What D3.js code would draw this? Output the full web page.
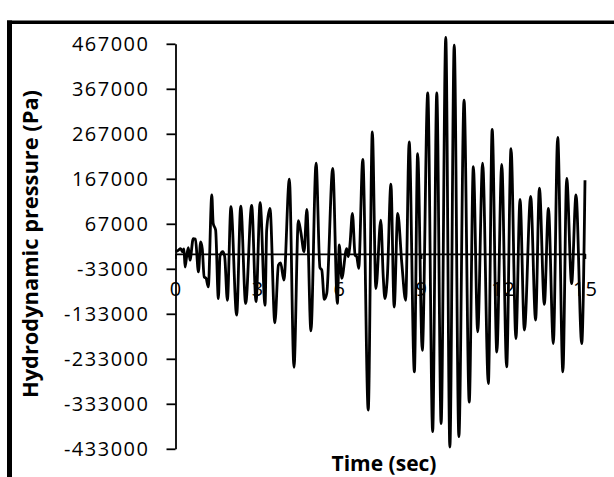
<!DOCTYPE html>
<html>
<head>
<meta charset="utf-8">
<script src="https://cdn.jsdelivr.net/npm/d3@7"></script>
<style>
  html, body { margin: 0; padding: 0; background: #fff; }
  svg { display: block; }
  .tick text { font-family: "Open Sans", sans-serif; font-size: 20px; fill: #000; }
  .title { font-family: "Open Sans", sans-serif; font-weight: bold; font-size: 21px; fill: #000; }
</style>
</head>
<body>
<svg id="chart" width="614" height="477"></svg>
<script>
// Time history of hydrodynamic pressure
const timeSec = [
  0, 0.10, 0.19, 0.25, 0.31, 0.35, 0.41, 0.47, 0.53, 0.65,
  0.73, 0.84, 0.92, 0.98, 1.05, 1.12, 1.20, 1.33, 1.38, 1.47,
  1.57, 1.63, 1.73, 1.80, 1.90, 2.03, 2.24, 2.39, 2.57, 2.79,
  2.95, 3.10, 3.28, 3.34, 3.46, 3.64, 3.77, 3.85, 3.97, 4.17,
  4.34, 4.50, 4.59, 4.71, 4.81, 4.96, 5.15, 5.29, 5.36, 5.45,
  5.54, 5.76, 5.93, 6.00, 6.09, 6.27, 6.33, 6.39, 6.48, 6.58,
  6.64, 6.71, 6.86, 7.06, 7.21, 7.34, 7.52, 7.61, 7.67, 7.76,
  7.89, 8.01, 8.14, 8.29, 8.43, 8.56, 8.75, 8.87, 9.04, 9.24,
  9.42, 9.57, 9.73, 9.90, 10.05, 10.21, 10.38, 10.57, 10.76, 10.91,
  11.07, 11.25, 11.46, 11.60, 11.77, 11.95, 12.13, 12.29, 12.47, 12.62,
  12.78, 13.01, 13.19, 13.33, 13.51, 13.66, 13.84, 14.00, 14.19, 14.33,
  14.51, 14.67, 14.88, 15.0
];
const pressurePa = [
  5000, 8000, 12000, 5000, 11000, -29000, -5000, 14000, -14000, 34000,
  33000, -40000, 27000, 12000, -51000, -54000, -73000, 131000, 68000, 53000,
  -99000, -5000, 5000, -5000, -103000, 105000, -136000, 106000, -110000, 108000,
  -106000, 114000, -114000, 53000, 101000, -153000, -25000, -20000, -58000, 166000,
  -252000, 74000, 49000, 5000, 99000, -171000, 202000, -30000, -36000, -101000,
  -88000, 190000, -110000, 20000, -54000, 12000, -6000, 20000, 90000, -3000,
  -6000, -32000, 210000, -347000, 271000, -77000, 75000, -51000, -99000, -51000,
  155000, -118000, 90000, -21000, -103000, 249000, -262000, 223000, -214000, 358000,
  -395000, 358000, -377000, 481000, -429000, 464000, -406000, 342000, -329000, 194000,
  -173000, 202000, -288000, 277000, -218000, 199000, -251000, 234000, -188000, 121000,
  -169000, 128000, -147000, 146000, -112000, 101000, -199000, 259000, -262000, 168000,
  -66000, 131000, -199000, 164000
];
const yTickValues = [-433000, -333000, -233000, -133000, -33000, 67000, 167000, 267000, 367000, 467000];
const xTickValues = [0, 3, 6, 9, 12, 15];
const xTitle = "Time (sec)";
const yTitle = "Hydrodynamic pressure (Pa)";

const svg = d3.select("#chart");

// outer frame (left and top edges)
svg.append("rect").attr("x", 7).attr("y", 20.5).attr("width", 5).attr("height", 460).attr("fill", "#000");
svg.append("rect").attr("x", 7).attr("y", 20.5).attr("width", 610).attr("height", 3.5).attr("fill", "#000");

const x = d3.scaleLinear().domain([0, 15]).range([175.5, 585]);
const y = d3.scaleLinear().domain([-433000, 467000]).range([448.8, 43.8]);

const points = timeSec.map((t, i) => [t, pressurePa[i]]);

const line = d3.line()
  .x(d => x(d[0]))
  .y(d => y(d[1]))
  .curve(d3.curveMonotoneX);

svg.append("path")
  .datum(points)
  .attr("fill", "none")
  .attr("stroke", "#000")
  .attr("stroke-width", 2.8)
  .attr("stroke-linejoin", "round")
  .attr("d", line);

// horizontal axis through zero
const xAxis = svg.append("g")
  .attr("transform", `translate(0,${y(0)})`)
  .call(d3.axisBottom(x).tickValues(xTickValues).tickFormat(d => String(d))
    .tickSizeInner(5).tickSizeOuter(0).tickPadding(23));
xAxis.select(".domain").attr("stroke", "#000").attr("stroke-width", 1.8);
xAxis.selectAll(".tick line").attr("stroke", "#000").attr("stroke-width", 1.5);
xAxis.selectAll(".tick text").style("letter-spacing", "1px");

// vertical axis
const yAxis = svg.append("g")
  .attr("transform", `translate(${x(0)},0)`)
  .call(d3.axisLeft(y).tickValues(yTickValues).tickFormat(d => String(d))
    .tickSizeInner(9).tickSizeOuter(0).tickPadding(17));
yAxis.select(".domain").attr("stroke", "#000").attr("stroke-width", 1.8);
yAxis.selectAll(".tick line").attr("stroke", "#000").attr("stroke-width", 1.8);
yAxis.selectAll(".tick text").style("letter-spacing", "1.5px");

// axis titles
svg.append("text")
  .attr("class", "title")
  .attr("x", 384)
  .attr("y", 471)
  .attr("text-anchor", "middle")
  .text(xTitle);

svg.append("text")
  .attr("class", "title")
  .attr("transform", "translate(38,244) rotate(-90)")
  .attr("text-anchor", "middle")
  .attr("textLength", 308)
  .attr("lengthAdjust", "spacingAndGlyphs")
  .text(yTitle);
</script>
</body>
</html>
